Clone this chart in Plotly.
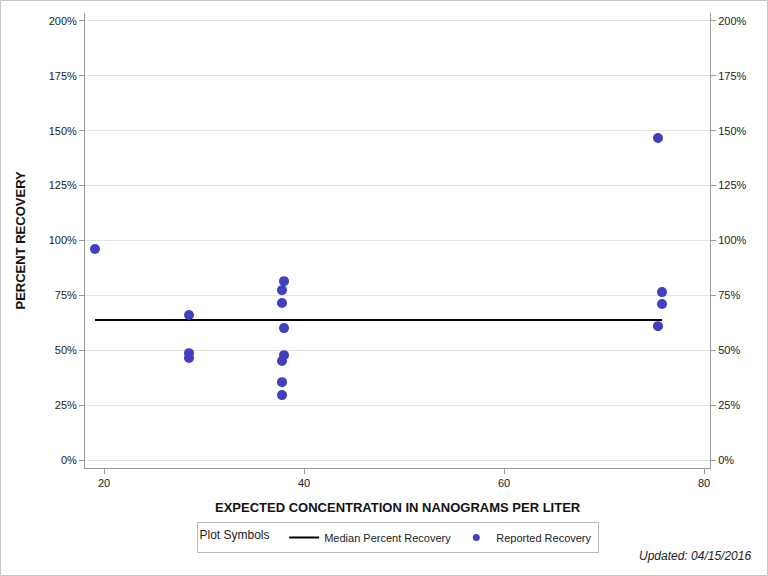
import plotly.graph_objects as go

# Data
conc = [19.1, 28.5, 28.5, 28.5, 38.0, 37.8, 37.8, 38.0, 38.0, 37.8, 37.8, 37.8, 75.4, 75.4, 75.8, 75.8]
recovery = [96.1, 66.1, 48.7, 46.5, 81.5, 77.4, 71.5, 60.1, 47.8, 45.1, 35.5, 29.6, 146.7, 61.0, 76.5, 71.1]
median_x = [19.1, 75.8]
median_y = [63.8, 63.8]
y_ticks = [0, 25, 50, 75, 100, 125, 150, 175, 200]
y_tick_labels = ["0%", "25%", "50%", "75%", "100%", "125%", "150%", "175%", "200%"]
x_ticks = [20, 40, 60, 80]

FONT = "Liberation Sans, Arial, sans-serif"
AXIS_COLOR = "#9a9a9a"
PT_COLOR = "#4040c0"

fig = go.Figure()
fig.add_trace(go.Scatter(x=median_x, y=median_y, mode="lines",
                         line=dict(color="black", width=2),
                         name="Median Percent Recovery"))
fig.add_trace(go.Scatter(x=conc, y=recovery, mode="markers",
                         marker=dict(color=PT_COLOR, size=10),
                         name="Reported Recovery", showlegend=False))
# legend-only entry with a smaller symbol
fig.add_trace(go.Scatter(x=[None], y=[None], mode="markers",
                         marker=dict(color=PT_COLOR, size=7),
                         name="Reported Recovery"))
# invisible trace on the mirrored right axis
fig.add_trace(go.Scatter(x=[conc[0]], y=[recovery[0]], yaxis="y2", mode="markers",
                         marker=dict(opacity=0), showlegend=False, hoverinfo="skip"))

yr = [-3.6, 203.6]
common_y = dict(range=yr, tickvals=y_ticks, ticktext=y_tick_labels, ticks="outside",
                ticklen=5, tickcolor=AXIS_COLOR, showline=True, linecolor=AXIS_COLOR,
                linewidth=1, zeroline=False, tickfont=dict(size=11))
fig.update_layout(
    width=768, height=576,
    margin=dict(l=85, r=58, t=13, b=108),
    paper_bgcolor="white", plot_bgcolor="white",
    font=dict(family=FONT, size=11, color="#222"),
    xaxis=dict(range=[18.1, 80.6], tickvals=x_ticks, ticks="outside", ticklen=5,
               tickcolor=AXIS_COLOR, showline=True, linecolor=AXIS_COLOR, linewidth=1,
               showgrid=False, zeroline=False, tickfont=dict(size=11)),
    yaxis=dict(**common_y, showgrid=True, gridcolor="#e4e4e4"),
    yaxis2=dict(**common_y, overlaying="y", side="right", showgrid=False),
    legend=dict(orientation="h", x=0.5, xanchor="center", y=-0.1187, yanchor="top",
                bordercolor="#bbbbbb", borderwidth=1, bgcolor="white",
                title=dict(text="Plot Symbols  ", font=dict(size=12)),
                font=dict(size=11), itemwidth=30, tracegroupgap=0),
    showlegend=True,
    annotations=[
        dict(text="<b>PERCENT RECOVERY</b>", xref="paper", yref="paper",
             x=(20 - 85) / 625, y=0.5, xanchor="center", yanchor="middle",
             textangle=-90, showarrow=False, font=dict(size=13, color="#111")),
        dict(text="<b>EXPECTED CONCENTRATION IN NANOGRAMS PER LITER</b>", xref="paper",
             yref="paper", x=(398 - 85) / 625, y=(468 - 508) / 455, xanchor="center",
             yanchor="middle", showarrow=False, font=dict(size=13, color="#111")),
        dict(text="<i>Updated: 04/15/2016</i>", xref="paper", yref="paper",
             x=(753 - 85) / 625, y=(468 - 556) / 455, xanchor="right", yanchor="middle",
             showarrow=False, font=dict(size=12, color="#222")),
    ],
    shapes=[
        dict(type="rect", xref="paper", yref="paper",
             x0=(0.5 - 85) / 625, x1=(767.5 - 85) / 625,
             y0=(468 - 575.5) / 455, y1=(468 - 0.5) / 455,
             line=dict(color="#c8c8c8", width=1)),
    ],
)

fig.write_html("out.html", config={"displayModeBar": False},
               post_script="document.body.style.margin='0';")
